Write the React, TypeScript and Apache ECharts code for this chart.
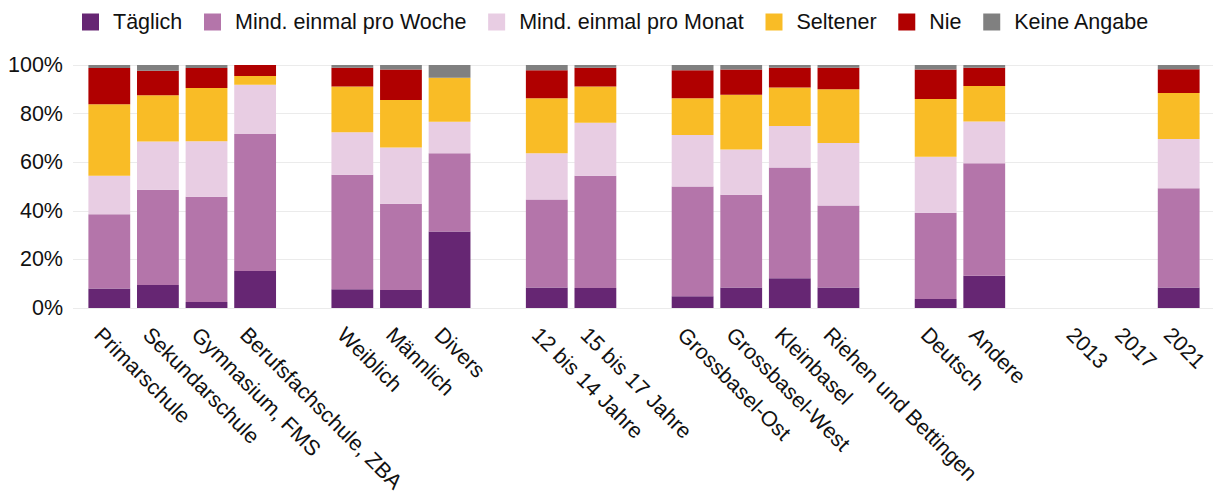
import React, { useEffect, useRef } from "react";
import * as echarts from "echarts";

const categories = [
  "Primarschule", "Sekundarschule", "Gymnasium, FMS", "Berufsfachschule, ZBA", " ",
  "Weiblich", "Männlich", "Divers", "  ",
  "12 bis 14 Jahre", "15 bis 17 Jahre", "   ",
  "Grossbasel-Ost", "Grossbasel-West", "Kleinbasel", "Riehen und Bettingen", "    ",
  "Deutsch", "Andere", "     ",
  "2013", "2017", "2021",
];

const seriesNames = ["Täglich", "Mind. einmal pro Woche", "Mind. einmal pro Monat", "Seltener", "Nie", "Keine Angabe"];
const seriesColors = ["#662673", "#b475aa", "#e8cde3", "#f9bc26", "#b00000", "#808080"];

const taeglich = [8, 9.5, 2.5, 15.2, null, 7.7, 7.4, 31.5, null, 8.4, 8.2, null, 4.8, 8.4, 12.2, 8.4, null, 3.7, 13.3, null, null, null, 8.4];
const woche = [30.6, 39.2, 43.3, 56.4, null, 47.1, 35.5, 32.2, null, 36.3, 46.2, null, 45.2, 38.2, 45.6, 33.8, null, 35.5, 46.3, null, null, null, 40.9];
const monat = [15.8, 19.8, 22.8, 20.3, null, 17.5, 23.1, 12.9, null, 19, 21.8, null, 21.2, 18.6, 17.1, 25.7, null, 23, 17.2, null, null, null, 20.2];
const seltener = [29.4, 19.1, 21.9, 3.6, null, 18.9, 19.6, 18.2, null, 22.6, 15, null, 15.1, 22.6, 15.8, 22.1, null, 23.8, 14.6, null, null, null, 19];
const nie = [15, 10, 8.3, 4.5, null, 7.7, 12.5, 0, null, 11.5, 7.7, null, 11.5, 10.3, 8.2, 8.9, null, 12.1, 7.5, null, null, null, 9.7];
const keineAngabe = [1.2, 2.5, 1.2, 0, null, 1.1, 1.9, 5.2, null, 2.2, 1.1, null, 2.2, 1.9, 1.1, 1.1, null, 1.9, 1.1, null, null, null, 1.8];

const seriesValues = [taeglich, woche, monat, seltener, nie, keineAngabe];
const yTicks = [0, 20, 40, 60, 80, 100];

const FONT = "Liberation Sans, Arial, sans-serif";
const FS = 21.5;

export default function App() {
  const ref = useRef<HTMLDivElement>(null);
  useEffect(() => {
    document.body.style.margin = "0";
    if (!ref.current) return;
    const chart = echarts.init(ref.current, null, { renderer: "svg" });
    const bars = seriesNames.map((name, i) => ({
      name,
      type: "bar",
      stack: "total",
      xAxisIndex: 1,
      yAxisIndex: 1,
      barWidth: "86%",
      itemStyle: { color: seriesColors[i] },
      data: seriesValues[i].map((v) => (v === null ? "-" : v)),
    }));
    chart.setOption({
      animation: false,
      textStyle: { fontFamily: FONT },
      legend: {
        data: seriesNames,
        left: 77,
        top: 6,
        icon: "rect",
        itemWidth: 17,
        itemHeight: 17,
        itemGap: 21.7,
        textStyle: { fontSize: FS, color: "#111", fontFamily: FONT, padding: [0, 0, 0, 9] },
      },
      grid: [
        { left: 73, right: 2, top: 65, bottom: 189, outerBoundsMode: "none", containLabel: false },
        { left: 85, right: 12, top: 65, bottom: 189, outerBoundsMode: "none", containLabel: false },
      ],
      xAxis: [
        { type: "value", gridIndex: 0, min: 0, max: 1, show: false },
        {
          type: "category",
          gridIndex: 1,
          data: categories,
          axisLine: { show: false },
          axisTick: { show: false },
          axisLabel: {
            interval: 0,
            rotate: -45,
            fontSize: FS,
            color: "#111",
            fontFamily: FONT,
            margin: 2,
            verticalAlign: "top",
            padding: [12, 0, 0, 7],
          },
        },
      ],
      yAxis: [
        {
          type: "value",
          gridIndex: 0,
          min: yTicks[0],
          max: yTicks[yTicks.length - 1],
          interval: 20,
          axisLine: { show: false },
          axisTick: { show: false },
          axisLabel: { formatter: "{value}%", fontSize: FS, color: "#111", margin: 10, fontFamily: FONT },
          splitLine: { lineStyle: { color: "#ebebeb", width: 1 } },
        },
        {
          type: "value",
          gridIndex: 1,
          min: 0,
          max: 100,
          interval: 20,
          show: false,
          splitLine: { show: false },
        },
      ],
      series: [
        { type: "line", xAxisIndex: 0, yAxisIndex: 0, data: [], silent: true },
        ...bars,
      ],
    });
    return () => chart.dispose();
  }, []);
  return <div ref={ref} style={{ width: 1215, height: 497 }} />;
}
